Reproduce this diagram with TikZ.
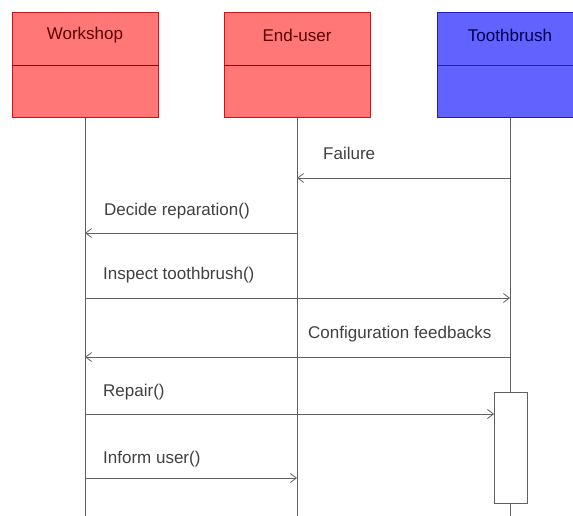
\documentclass[tikz,border=0pt]{standalone}
\usepackage{fontspec}
\setmainfont{Liberation Sans}
\usetikzlibrary{positioning,arrows.meta}

\definecolor{headred}{HTML}{FF7777}
\definecolor{edgered}{HTML}{D81010}
\definecolor{headblue}{HTML}{6262FF}
\definecolor{edgeblue}{HTML}{2020B0}
\definecolor{wire}{HTML}{606060}

\tikzset{
  head/.style={draw, line width=1pt, minimum width=146pt, minimum height=105pt,
    anchor=north, inner sep=0pt},
  lifeline/.style={draw=wire, line width=0.8pt},
  msg/.style={draw=wire, line width=0.8pt, -{Straight Barb[length=6pt,width=9pt]}},
  lbl/.style={anchor=base west, inner sep=0pt, text=black!75, font=\fontsize{17}{20}\selectfont}
}

\begin{document}
\begin{tikzpicture}[x=1pt, y=-1pt]
  \useasboundingbox (0,0) rectangle (573,516);
  % header boxes
  \node[head, fill=headred, draw=edgered] (ws) at (85,12) {};
  \node[head, fill=headred, draw=edgered] (eu) at (297,12) {};
  \node[head, fill=headblue, draw=edgeblue] (tb) at (510,12) {};
  \draw[red!60!black, line width=0.8pt] (ws.west |- 0,65) -- (ws.east |- 0,65);
  \draw[red!60!black, line width=0.8pt] (eu.west |- 0,65) -- (eu.east |- 0,65);
  \draw[edgeblue, line width=0.8pt] (tb.west |- 0,65) -- (tb.east |- 0,65);
  \node[font=\fontsize{17}{20}\selectfont, text=red!35!black] at (85,35) {Workshop};
  \node[font=\fontsize{17}{20}\selectfont, text=red!35!black] at (297,35) {End-user};
  \node[font=\fontsize{17}{20}\selectfont, text=blue!30!black] at (510,35) {Toothbrush};

  % lifelines
  \coordinate (wsend) at (85,516);
  \coordinate (euend) at (297,516);
  \coordinate (tbend) at (510,516);
  \draw[lifeline] (ws.south) -- (wsend);
  \draw[lifeline] (eu.south) -- (euend);
  \draw[lifeline] (tb.south) -- (tbend);

  % activation
  \node[draw=wire, line width=0.8pt, fill=white, minimum width=33pt, minimum height=111pt,
    inner sep=0pt] (act) at (511,447.5) {};

  % message rows
  \foreach \n/\y in {1/178,2/233,3/298,4/357,5/414,6/478} {
    \coordinate (w\n) at (85,\y);
    \coordinate (e\n) at (297,\y);
    \coordinate (t\n) at (510,\y);
  }
  \draw[msg] (t1) -- (e1);
  \draw[msg] (e2) -- (w2);
  \draw[msg] (w3) -- (t3);
  \draw[msg] (t4) -- (w4);
  \draw[msg] (w5) -- (act.west |- w5);
  \draw[msg] (w6) -- (e6);

  \node[lbl] (l1) at (323,160) {Failure};
  \node[lbl] (l2) at (104,215) {Decide reparation()};
  \node[lbl] (l3) at (103,279) {Inspect toothbrush()};
  \node[lbl] (l4) at (308,338) {Configuration feedbacks};
  \node[lbl] (l5) at (103,396) {Repair()};
  \node[lbl] (l6) at (103,463) {Inform user()};
\end{tikzpicture}
\end{document}
